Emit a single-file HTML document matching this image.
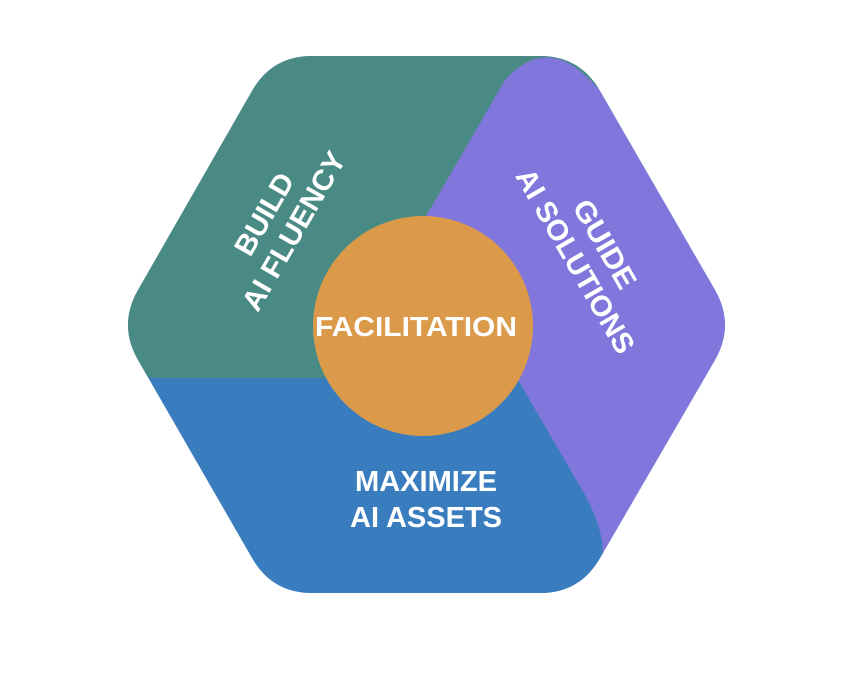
<!DOCTYPE html>
<html><head><meta charset="utf-8"><style>
html,body{margin:0;padding:0;background:#fff;}
svg{display:block;}
text{font-family:"Liberation Sans",Arial,sans-serif;font-weight:bold;fill:#fff;}
</style></head><body>
<svg width="858" height="686" viewBox="0 0 858 686">
<defs>
<clipPath id="hex"><path d="M138,290 L252,91 Q272,56 312,56 L540,56 Q580,56 600,91 L715,290 Q735,325 715,360 L600,558 Q580,593 540,593 L312,593 Q272,593 252,558 L138,360 Q118,325 138,290 Z"/></clipPath>
</defs>
<g clip-path="url(#hex)">
<rect x="0" y="0" width="858" height="686" fill="#3A7DBF"/>
<path d="M250,30 L700,30 L331,378 L164,378 Q94,378 120,318 L60,300 Z" fill="#4A8A85"/>
<path d="M425,218 L505,80 Q550,30 600,91 L715,290 Q735,325 715,360 L640,620 L560,620 L517,378 Z" fill="#8176DB"/>
<path d="M517,378 L585,495 Q612,545 598,575 Q590,593 560,593 L300,593 L300,378 Z" fill="#3A7DBF"/>
</g>
<circle cx="423" cy="326" r="110" fill="#DB9A4A"/>
<text x="416" y="336" font-size="28" text-anchor="middle" textLength="202" lengthAdjust="spacingAndGlyphs">FACILITATION</text>
<text x="426" y="491" font-size="29" text-anchor="middle" textLength="142" lengthAdjust="spacingAndGlyphs">MAXIMIZE</text>
<text x="426" y="527" font-size="29" text-anchor="middle" textLength="152" lengthAdjust="spacingAndGlyphs">AI ASSETS</text>
<g transform="translate(278,222) rotate(-60)">
<text x="0" y="-6" font-size="29" text-anchor="middle" textLength="90" lengthAdjust="spacingAndGlyphs">BUILD</text>
<text x="0" y="28" font-size="29" text-anchor="middle" textLength="178" lengthAdjust="spacingAndGlyphs">AI FLUENCY</text>
</g>
<g transform="translate(591,252) rotate(60)">
<text x="0" y="-6" font-size="29" text-anchor="middle" textLength="98" lengthAdjust="spacingAndGlyphs">GUIDE</text>
<text x="0" y="28" font-size="29" text-anchor="middle" textLength="208" lengthAdjust="spacingAndGlyphs">AI SOLUTIONS</text>
</g>
</svg>
</body></html>
